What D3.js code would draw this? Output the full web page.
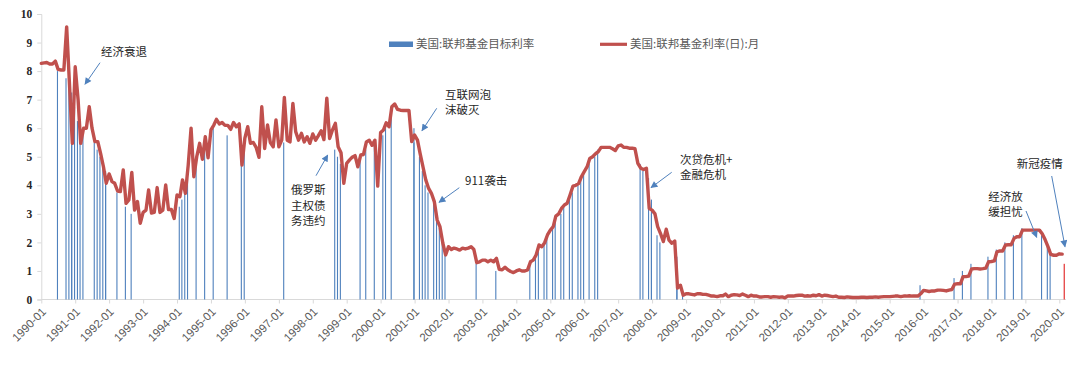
<!DOCTYPE html>
<html>
<head>
<meta charset="utf-8">
<script src="https://cdn.jsdelivr.net/npm/d3@7/dist/d3.min.js"></script>
<style>
  html, body { margin: 0; padding: 0; background: #fff; }
  svg { display: block; }
</style>
</head>
<body>
<svg id="chart" width="1080" height="365"></svg>
<script>
// ---------- DATA ----------
const startMonth = "1990-01";
// 美国:联邦基金利率(日):月 — monthly values, Jan 1990 .. Feb 2020
const rate1990 = [8.27, 8.29, 8.30, 8.25, 8.25, 8.35, 8.06, 8.04, 8.04, 9.55, 7.5, 5.47];
const rate1991 = [8.15, 7.0, 5.47, 6.0, 6.0, 6.75, 6.0, 5.53, 5.53, 5.12, 4.65, 4.07];
const rate1992 = [4.40, 4.13, 4.07, 3.80, 3.78, 4.54, 3.37, 3.49, 4.45, 3.13, 3.43, 2.67];
const rate1993 = [3.05, 3.13, 3.84, 3.03, 3.05, 3.92, 3.05, 3.13, 4.01, 3.15, 3.15, 2.84];
const rate1994 = [3.66, 3.60, 4.19, 3.72, 4.70, 6.0, 4.30, 5.0, 5.47, 4.91, 5.70, 4.96];
const rate1995 = [5.94, 6.11, 6.31, 6.15, 6.20, 6.10, 6.10, 5.96, 6.20, 6.05, 6.15, 4.71];
const rate1996 = [5.65, 6.05, 5.47, 5.50, 5.33, 4.98, 6.75, 5.29, 6.11, 5.50, 5.35, 6.29];
const rate1997 = [5.35, 5.58, 7.08, 5.58, 5.52, 6.87, 5.88, 5.58, 5.82, 5.52, 5.70, 5.47];
const rate1998 = [5.80, 5.58, 5.73, 5.91, 5.60, 7.05, 5.64, 5.94, 6.17, 5.35, 5.14, 4.07];
const rate1999 = [4.77, 4.89, 4.98, 5.04, 4.65, 5.06, 5.08, 5.52, 5.58, 5.40, 5.58, 3.97];
const rate2000 = [5.85, 5.94, 6.19, 6.05, 6.75, 6.85, 6.66, 6.63, 6.62, 6.62, 6.62, 5.53];
const rate2001 = [5.76, 5.58, 5.12, 4.65, 4.19, 3.89, 3.72, 3.43, 2.78, 2.55, 1.97, 1.56];
const rate2002 = [1.85, 1.75, 1.80, 1.77, 1.73, 1.80, 1.77, 1.80, 1.85, 1.75, 1.29, 1.32];
const rate2003 = [1.38, 1.38, 1.32, 1.38, 1.32, 1.44, 1.06, 1.04, 1.13, 1.04, 0.98, 0.94];
const rate2004 = [1.00, 1.04, 1.00, 1.00, 1.04, 1.32, 1.38, 1.56, 1.91, 1.85, 1.99, 2.26];
const rate2005 = [2.43, 2.55, 2.92, 3.00, 3.19, 3.31, 3.37, 3.66, 3.97, 4.00, 4.06, 4.30];
const rate2006 = [4.48, 4.65, 4.94, 5.00, 5.10, 5.18, 5.33, 5.33, 5.33, 5.33, 5.28, 5.22];
const rate2007 = [5.38, 5.41, 5.33, 5.33, 5.30, 5.30, 5.28, 4.77, 4.60, 4.55, 4.60, 3.19];
const rate2008 = [3.13, 3.00, 2.55, 2.31, 2.03, 2.46, 2.08, 1.97, 2.05, 0.40, 0.50, 0.15];
const rate2009 = [0.20, 0.20, 0.18, 0.16, 0.20, 0.20, 0.18, 0.18, 0.15, 0.12, 0.12, 0.10];
const rate2010 = [0.13, 0.13, 0.19, 0.10, 0.15, 0.17, 0.16, 0.14, 0.19, 0.15, 0.10, 0.15];
const rate2011 = [0.12, 0.12, 0.09, 0.09, 0.10, 0.10, 0.08, 0.10, 0.09, 0.08, 0.09, 0.06];
const rate2012 = [0.12, 0.12, 0.12, 0.14, 0.15, 0.15, 0.12, 0.13, 0.12, 0.15, 0.13, 0.17];
const rate2013 = [0.12, 0.15, 0.14, 0.12, 0.10, 0.12, 0.08, 0.08, 0.07, 0.09, 0.08, 0.07];
const rate2014 = [0.07, 0.07, 0.08, 0.08, 0.07, 0.08, 0.08, 0.09, 0.08, 0.09, 0.10, 0.10];
const rate2015 = [0.10, 0.11, 0.12, 0.12, 0.10, 0.12, 0.12, 0.13, 0.12, 0.12, 0.12, 0.20];
const rate2016 = [0.32, 0.30, 0.28, 0.30, 0.30, 0.33, 0.33, 0.32, 0.30, 0.33, 0.35, 0.54];
const rate2017 = [0.55, 0.55, 0.80, 0.80, 0.82, 1.07, 1.08, 1.08, 1.07, 1.08, 1.10, 1.32];
const rate2018 = [1.33, 1.35, 1.67, 1.70, 1.70, 1.91, 1.92, 1.92, 2.14, 2.20, 2.20, 2.43];
const rate2019 = [2.43, 2.43, 2.43, 2.43, 2.43, 2.43, 2.30, 2.10, 1.85, 1.58, 1.55, 1.55];
const rate2020 = [1.60, 1.59];

// 美国:联邦基金目标利率 — months in which the target changed, and the new target
const targetMonths = [
  "1990-07","1990-10","1990-11","1990-12","1990-12","1991-01","1991-02","1991-03","1991-04","1991-08",
  "1991-09","1991-10","1991-11","1991-12","1991-12","1992-04","1992-07","1992-09","1994-02","1994-03",
  "1994-04","1994-05","1994-08","1994-11","1995-02","1995-07","1995-12","1996-01","1997-03","1998-09",
  "1998-10","1998-11","1999-06","1999-08","1999-11","2000-02","2000-03","2000-05","2001-01","2001-01",
  "2001-03","2001-04","2001-05","2001-06","2001-08","2001-09","2001-10","2001-11","2001-12","2002-11",
  "2003-06","2004-06","2004-08","2004-09","2004-11","2004-12","2005-02","2005-03","2005-05","2005-06",
  "2005-08","2005-09","2005-11","2005-12","2006-01","2006-03","2006-05","2006-06","2007-09","2007-10",
  "2007-12","2008-01","2008-01","2008-03","2008-04","2008-10","2008-10","2008-12","2015-12","2016-12",
  "2017-03","2017-06","2017-12","2018-03","2018-06","2018-09","2018-12","2019-07","2019-09","2019-10",
  "2020-03"
];
const targetValues = [
  8.00, 7.75, 7.50, 7.25, 7.00, 6.75, 6.25, 6.00, 5.75, 5.50,
  5.25, 5.00, 4.75, 4.50, 4.00, 3.75, 3.25, 3.00, 3.25, 3.50,
  3.75, 4.25, 4.75, 5.50, 6.00, 5.75, 5.50, 5.25, 5.50, 5.25,
  5.00, 4.75, 5.00, 5.25, 5.50, 5.75, 6.00, 6.50, 6.00, 5.50,
  5.00, 4.50, 4.00, 3.75, 3.50, 3.00, 2.50, 2.00, 1.75, 1.25,
  1.00, 1.25, 1.50, 1.75, 2.00, 2.25, 2.50, 2.75, 3.00, 3.25,
  3.50, 3.75, 4.00, 4.25, 4.50, 4.75, 5.00, 5.25, 4.75, 4.50,
  4.25, 3.50, 3.00, 2.25, 2.00, 1.50, 1.00, 0.25, 0.50, 0.75,
  1.00, 1.25, 1.50, 1.75, 2.00, 2.25, 2.50, 2.25, 2.00, 1.75,
  1.25
];
const highlightMonth = "2020-03";

const yTicks = [0, 1, 2, 3, 4, 5, 6, 7, 8, 9, 10];
const xTickYears = d3.range(1990, 2021);

const legendLabels = ["美国:联邦基金目标利率", "美国:联邦基金利率(日):月"];

const annotations = [
  { lines: ["经济衰退"], tx: 101, ty: 56, from: [100, 62.7], to: [85, 84.3] },
  { lines: ["俄罗斯", "主权债", "务违约"], tx: 291, ty: 194, from: [316, 175.7], to: [327.7, 155] },
  { lines: ["互联网泡", "沫破灭"], tx: 445, ty: 98.5, from: [436.7, 108.3], to: [422, 130.7] },
  { lines: ["911袭击"], tx: 465, ty: 185, from: [459.3, 187.7], to: [439, 202.3] },
  { lines: ["次贷危机+", "金融危机"], tx: 680, ty: 163.5, from: [671.7, 172.3], to: [651, 187.7] },
  { lines: ["经济放", "缓担忧"], tx: 988.3, ty: 200.5, from: [1026, 211], to: [1036.7, 237.3] },
  { lines: ["新冠疫情"], tx: 1016.7, ty: 167.5, from: [1051.7, 176], to: [1065, 246.7] }
];

// ---------- BUILD ----------
const parseMonth = d3.utcParse("%Y-%m");
const allRates = [].concat(rate1990, rate1991, rate1992, rate1993, rate1994, rate1995, rate1996,
  rate1997, rate1998, rate1999, rate2000, rate2001, rate2002, rate2003, rate2004, rate2005,
  rate2006, rate2007, rate2008, rate2009, rate2010, rate2011, rate2012, rate2013, rate2014,
  rate2015, rate2016, rate2017, rate2018, rate2019, rate2020);
const start = parseMonth(startMonth);
const lineData = allRates.map((v, i) => ({ date: d3.utcMonth.offset(start, i), value: v }));
const barData = targetMonths.map((m, i) => ({ date: parseMonth(m), value: targetValues[i], hi: m === highlightMonth }));

const svg = d3.select("#chart");
const x = d3.scaleUtc()
  .domain([parseMonth("1990-01"), parseMonth("2020-01")])
  .range([41.3, 1059.3]);
const y = d3.scaleLinear().domain([0, 10]).range([299.5, 14]);

const gridColor = "#d9d9d9";

// Y axis
const yAxis = svg.append("g").attr("transform", "translate(41.3,0)")
  .call(d3.axisLeft(y).tickValues(yTicks).tickSize(4).tickPadding(5).tickFormat(d3.format("d")));
yAxis.select(".domain").attr("stroke", gridColor);
yAxis.selectAll(".tick line").attr("stroke", gridColor);
yAxis.selectAll(".tick text")
  .attr("fill", "#262626")
  .style("font-family", "'Liberation Serif', 'DejaVu Serif', serif")
  .style("font-weight", "bold")
  .style("font-size", "11.5px");

// X axis
const xTickDates = xTickYears.map(yr => parseMonth(yr + "-01"));
const xAxis = svg.append("g").attr("transform", "translate(0,299.5)")
  .call(d3.axisBottom(x).tickValues(xTickDates).tickSize(4).tickFormat(d3.utcFormat("%Y-%m")));
xAxis.select(".domain").attr("stroke", gridColor).attr("d", "M41.3,0H1066");
xAxis.selectAll(".tick line").attr("stroke", gridColor);
xAxis.selectAll(".tick text")
  .attr("fill", "#595959")
  .style("font-family", "'Liberation Sans', Arial, sans-serif")
  .style("font-size", "11.5px")
  .attr("text-anchor", "end")
  .attr("dy", null)
  .attr("y", 0)
  .attr("transform", "translate(5,13) rotate(-45)");

// Bars (target rate)
svg.append("g").selectAll("rect").data(barData).join("rect")
  .attr("x", d => x(d.date) - 1.2)
  .attr("width", 1.1)
  .attr("y", d => y(d.value))
  .attr("height", d => y(0) - y(d.value))
  .attr("fill", d => d.hi ? "#e02020" : "#4f81bd");

// Line (effective rate)
const line = d3.line().x(d => x(d.date)).y(d => y(d.value)).curve(d3.curveLinear);
svg.append("path").datum(lineData)
  .attr("d", line)
  .attr("fill", "none")
  .attr("stroke", "#c0504d")
  .attr("stroke-width", 3.4)
  .attr("stroke-linejoin", "round")
  .attr("stroke-linecap", "round");

// Legend
const lg = svg.append("g").style("font-family", "'Noto Sans CJK SC', sans-serif").style("font-size", "11.5px");
lg.append("rect").attr("x", 389).attr("y", 41.5).attr("width", 24).attr("height", 5.5).attr("fill", "#4f81bd");
lg.append("text").attr("x", 416).attr("y", 48.3).attr("fill", "#595959").text(legendLabels[0]);
lg.append("line").attr("x1", 600).attr("x2", 627).attr("y1", 44.3).attr("y2", 44.3)
  .attr("stroke", "#c0504d").attr("stroke-width", 3.2);
lg.append("text").attr("x", 630).attr("y", 48.3).attr("fill", "#595959").text(legendLabels[1]);

// Annotations
const defs = svg.append("defs");
defs.append("marker").attr("id", "arr").attr("viewBox", "0 0 10 10")
  .attr("refX", 9).attr("refY", 5).attr("markerWidth", 9).attr("markerHeight", 7)
  .attr("markerUnits", "userSpaceOnUse").attr("orient", "auto")
  .append("path").attr("d", "M0,0L10,5L0,10Z").attr("fill", "#4f81bd");

const ag = svg.append("g");
annotations.forEach(a => {
  ag.append("line")
    .attr("x1", a.from[0]).attr("y1", a.from[1])
    .attr("x2", a.to[0]).attr("y2", a.to[1])
    .attr("stroke", "#4f81bd").attr("stroke-width", 1)
    .attr("marker-end", "url(#arr)");
  const t = ag.append("text")
    .attr("x", a.tx).attr("y", a.ty)
    .attr("fill", "#262626")
    .style("font-family", "'Noto Sans CJK SC', sans-serif")
    .style("font-size", "11.5px");
  a.lines.forEach((l, i) => {
    t.append("tspan").attr("x", a.tx).attr("dy", i === 0 ? 0 : 15.5).text(l);
  });
});
</script>
</body>
</html>
